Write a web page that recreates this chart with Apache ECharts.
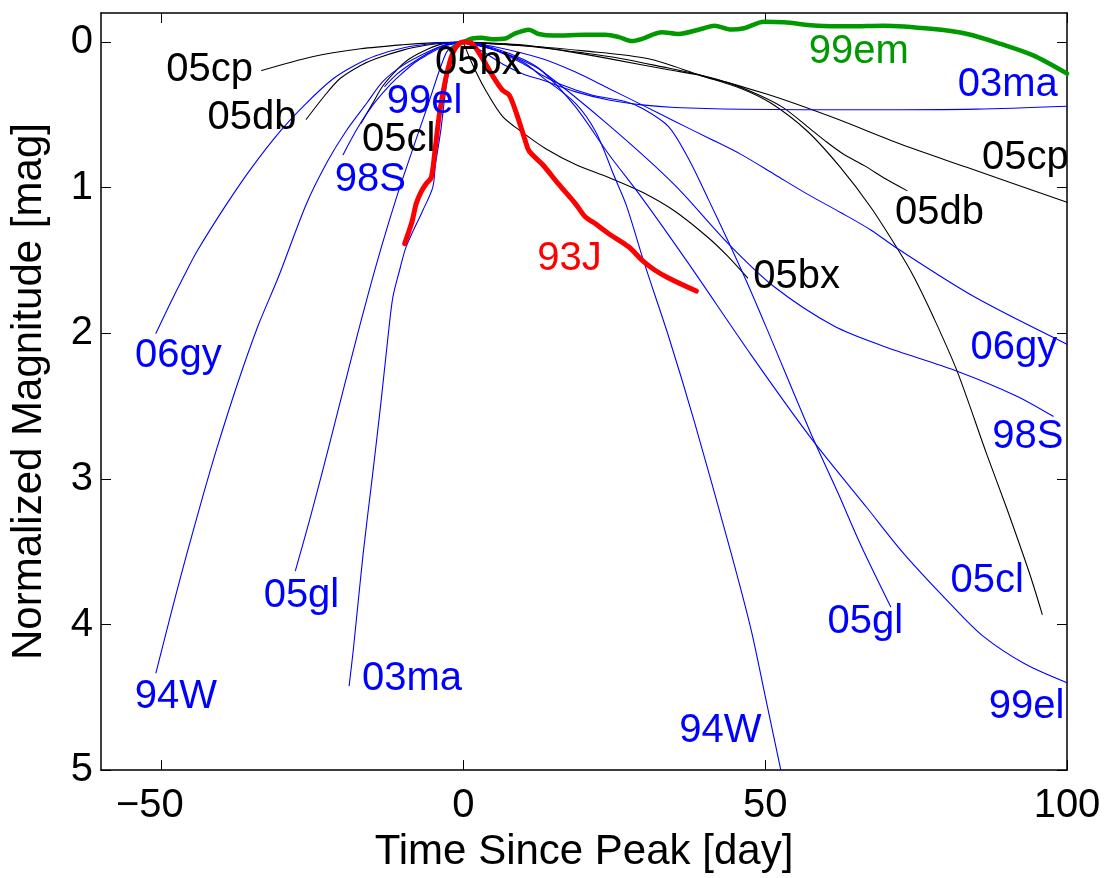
<!DOCTYPE html>
<html>
<head>
<meta charset="utf-8">
<script src="https://cdn.jsdelivr.net/npm/echarts@6/dist/echarts.min.js"></script>
<style>
html,body{margin:0;padding:0;background:#fff;}
#chart{width:1104px;height:878px;}
</style>
</head>
<body>
<div id="chart"></div>
<script>
// Normalized light curves: [day since peak, magnitude below peak]

// rise branches (before peak)
const rise05cp = [[-33.4,0.195],[-25,0.10],[-17,0.046],[-10,0.018],[-5,0.005],[0,0]];
const rise05db = [[-26,0.53],[-23,0.37],[-20.4,0.25],[-17,0.16],[-14.5,0.114],[-10,0.055],[-6.2,0.022],[-3,0.006],[0,0]];
const rise05cl = [[-16.9,0.556],[-15,0.42],[-13.3,0.30],[-11,0.19],[-8.9,0.114],[-6,0.05],[-3.4,0.012],[0,0]];
const rise99el = [[-13,0.304],[-11,0.22],[-8.9,0.155],[-6,0.08],[-3.4,0.025],[0,0]];
const rise98S  = [[-19.9,0.773],[-17.5,0.59],[-15,0.433],[-12.5,0.31],[-10.5,0.229],[-8,0.14],[-6.2,0.093],[-3,0.025],[0,0]];
const rise06gy = [[-50.9,2.0],[-48.6,1.80],[-46.3,1.61],[-44,1.43],[-39.2,1.113],[-35,0.86],[-30.3,0.611],[-26,0.42],[-21.5,0.25],[-18,0.16],[-14.5,0.093],[-10,0.04],[-5,0.01],[0,0]];
const rise94W  = [[-50.9,4.333],[-48,3.86],[-45.8,3.517],[-43,3.1],[-40.8,2.789],[-37.5,2.36],[-34,1.95],[-30.6,1.612],[-26,1.113],[-22.5,0.82],[-19.4,0.61],[-16,0.42],[-13.3,0.27],[-10,0.16],[-6,0.07],[-3,0.02],[0,0]];
const rise05gl = [[-27.8,3.63],[-25.5,3.29],[-23.2,2.93],[-20.8,2.54],[-18.4,2.15],[-16.0,1.77],[-13.5,1.40],[-11,1.06],[-8.9,0.80],[-6,0.45],[-2.9,0.08],[-1.5,0.02],[0,0]];
const rise03ma = [[-18.9,4.42],[-18.2,4.17],[-16.6,3.52],[-15.1,3.0],[-13.7,2.5],[-12.4,2.0],[-11.65,1.75],[-10.5,1.56],[-9.46,1.406],[-6.7,1.156],[-5.06,1.0],[-4.6,0.84],[-3.73,0.61],[-3.08,0.386],[-2.26,0.161],[-1.27,0.025],[0,0]];

// decline branches (after peak)
const fall05cp = [[0,0],[10,0.02],[17.5,0.065],[25,0.12],[34,0.19],[39.4,0.23],[50.5,0.36],[61.4,0.52],[72.4,0.70],[83.4,0.86],[100,1.10]];
const fall05db = [[0,0],[10,0.025],[20,0.075],[26.3,0.114],[33,0.17],[39.4,0.227],[44,0.28],[48.8,0.36],[53,0.45],[57,0.58],[60,0.68],[63,0.77],[66.5,0.85],[70,0.94],[73.5,1.02]];
const fall05cl = [[0,0],[10,0.025],[20,0.06],[30.7,0.114],[39.4,0.23],[46,0.318],[51,0.42],[57,0.612],[62.5,0.862],[67.5,1.134],[71.9,1.418],[74.6,1.61],[78,1.9],[81.8,2.26],[86.7,2.83],[90,3.2],[93.8,3.65],[95.9,3.93]];
const fall05bx = [[0,0],[1.5,0.15],[3.7,0.33],[6.5,0.51],[9.8,0.62],[13.6,0.73],[18.6,0.84],[24.1,0.93],[29.6,1.03],[35,1.16],[40.5,1.34],[43.8,1.47],[47.1,1.62]];
const fall03ma = [[0,0],[3,0.06],[6.5,0.15],[10,0.22],[13.1,0.26],[18.5,0.34],[24.1,0.397],[29.6,0.431],[35,0.449],[46,0.461],[67,0.465],[85,0.46],[100,0.44]];
const fall06gy = [[0,0],[5,0.03],[13.1,0.114],[18.5,0.204],[24.1,0.318],[29.6,0.431],[35,0.544],[40.6,0.658],[46,0.771],[51.5,0.907],[57,1.044],[62.5,1.17],[67.5,1.29],[71.9,1.418],[84.5,1.746],[100,2.075]];
const fall98S  = [[0,0],[5,0.05],[10,0.13],[13.1,0.2],[24.1,0.57],[35,0.98],[43.8,1.38],[51.5,1.68],[61.4,1.95],[69.7,2.09],[81.8,2.26],[91.6,2.43],[97.7,2.57]];
const fall05gl = [[0,0],[5,0.05],[10,0.15],[13.1,0.227],[16.4,0.295],[21.3,0.363],[26.8,0.408],[29.6,0.454],[34,0.58],[37.3,0.80],[40.6,1.08],[43.9,1.37],[47.2,1.67],[50.4,1.98],[57.6,2.69],[62,3.09],[65.8,3.45],[70.8,3.878]];
const fall99el = [[0,0],[5,0.04],[10,0.12],[13.1,0.2],[18.5,0.44],[24.1,0.77],[29.6,1.07],[37.3,1.52],[47.7,2.15],[57.6,2.72],[66.9,3.2],[73,3.515],[80.6,3.855],[86.1,4.08],[93,4.27],[100,4.40]];
const fall94W  = [[0,0],[5,0.05],[10,0.14],[13.1,0.24],[18.6,0.42],[22,0.62],[25,0.92],[27,1.12],[30,1.52],[34,2.02],[38.3,2.61],[44.3,3.5],[47.7,4.04],[49.9,4.47],[52.6,5.0]];

// full curves of the highlighted events
const lc93J = [[-9.7,1.384],[-9.0,1.3],[-8.4,1.22],[-7.8,1.11],[-7.0,1.03],[-6.2,0.976],[-5.3,0.93],[-4.7,0.75],[-3.9,0.48],[-2.9,0.25],[-1.8,0.08],[-0.8,0.015],[0,0],
  [1.5,0.012],[3.2,0.114],[4.8,0.227],[6.5,0.33],[7.6,0.363],[8.7,0.476],[10.3,0.68],[10.9,0.748],[13.1,0.839],[15.8,0.976],[18.6,1.111],[20.2,1.2],[21.9,1.248],[24.1,1.316],[27.4,1.406],[29.6,1.497],[31.7,1.565],[34,1.62],[38.6,1.71]];
const lc99em = [[-2.0,0.057],[-1,0.02],[0,0],[1.5,-0.025],[3,-0.03],[4.8,-0.02],[7.0,-0.025],[8.6,-0.06],[10.9,-0.085],[12.5,-0.056],[15,-0.045],[20.2,-0.05],[23.5,-0.05],[25.8,-0.034],[27.9,-0.007],[29.6,-0.022],[32.9,-0.068],[35.6,-0.056],[39.4,-0.09],[41.6,-0.113],[44.4,-0.086],[46.5,-0.095],[49.8,-0.14],[53.1,-0.136],[58.7,-0.113],[64.1,-0.109],[69.6,-0.113],[77.9,-0.09],[83.5,-0.056],[89,0.012],[94.4,0.091],[100,0.216]];

// text annotations: [text, day, mag, pen]
const annotations = [
  ['05cp', -42.0, 0.189, 'k'], ['05db', -35.0, 0.522, 'k'], ['99el', -6.4, 0.408, 'b'],
  ['05cl', -10.7, 0.669, 'k'], ['98S', -15.4, 0.947, 'b'], ['06gy', -47.2, 2.158, 'b'],
  ['05gl', -26.8, 3.804, 'b'], ['94W', -47.6, 4.499, 'b'], ['03ma', -8.5, 4.371, 'b'],
  ['05bx', 2.5, 0.142, 'k'], ['99em', 65.5, 0.071, 'g'], ['03ma', 90.2, 0.293, 'b'],
  ['05cp', 93.1, 0.796, 'k'], ['05db', 78.9, 1.174, 'k'], ['05bx', 55.2, 1.616, 'k'],
  ['93J', 17.6, 1.486, 'r'], ['06gy', 91.2, 2.103, 'b'], ['98S', 93.5, 2.710, 'b'],
  ['05cl', 86.8, 3.704, 'b'], ['05gl', 66.6, 3.986, 'b'], ['99el', 93.3, 4.564, 'b'],
  ['94W', 42.6, 4.734, 'b']
];

const xTicks = [-50, 0, 50, 100];
const yTicks = [0, 1, 2, 3, 4, 5];

// line pens
const pens = {
  k: { color: '#000000', width: 1.1 },
  b: { color: '#0000ff', width: 1.1 },
  r: { color: '#ff0000', width: 5 },
  g: { color: '#009900', width: 4.5 }
};

const curves = [
  [rise05cp, 'k'], [rise05db, 'k'], [rise05cl, 'k'],
  [fall05cp, 'k'], [fall05db, 'k'], [fall05cl, 'k'], [fall05bx, 'k'],
  [rise99el, 'b'], [rise98S, 'b'], [rise06gy, 'b'], [rise94W, 'b'], [rise05gl, 'b'], [rise03ma, 'b'],
  [fall03ma, 'b'], [fall06gy, 'b'], [fall98S, 'b'], [fall05gl, 'b'], [fall99el, 'b'], [fall94W, 'b'],
  [lc99em, 'g'], [lc93J, 'r']
];

const FONT = '"Liberation Sans", Arial, Helvetica, sans-serif';
// negative tick labels: the digits stay centred on the tick, the minus hangs to the left
const tickText = v => v < 0 ? '\u2212' + (-v) + '{gap|}' : String(v);

const frameLine = { show: true, onZero: false, lineStyle: { color: '#000', width: 1.5 } };
const innerTick = (vals) => ({ show: true, inside: true, length: 10, customValues: vals, lineStyle: { color: '#000', width: 1 } });

const series = curves.map(([pts, pen]) => ({
  type: 'line',
  data: pts,
  showSymbol: false,
  symbol: 'none',
  smooth: 0.3,
  silent: true,
  lineStyle: { color: pens[pen].color, width: pens[pen].width, cap: 'round', join: 'round', opacity: 1 },
  z: pen === 'r' || pen === 'g' ? 3 : 2
}));

series.push({
  type: 'scatter',
  silent: true,
  symbolSize: 1,
  itemStyle: { color: 'rgba(0,0,0,0)', opacity: 1 },
  z: 5,
  label: {
    show: true, position: 'inside', formatter: '{b}',
    fontSize: 40, fontFamily: FONT, opacity: 1
  },
  data: annotations.map(a => ({ name: a[0], value: [a[1], a[2]], label: { color: pens[a[3]].color } }))
});

const chart = echarts.init(document.getElementById('chart'), null, { renderer: 'canvas' });
chart.setOption({
  animation: false,
  backgroundColor: '#ffffff',
  grid: { left: 97, top: 13, right: 37, bottom: 100, containLabel: false },
  xAxis: [{
    type: 'value', min: -60, max: 100, position: 'bottom',
    axisLine: frameLine, axisTick: innerTick(xTicks), splitLine: { show: false },
    axisLabel: {
      customValues: xTicks, formatter: tickText, fontSize: 40, fontFamily: FONT, color: '#000', margin: 16,
      rich: { gap: { width: 23, fontSize: 40 } }
    },
    name: 'Time Since Peak [day]', nameLocation: 'middle', nameGap: 52,
    nameTextStyle: { fontSize: 42, fontFamily: FONT, color: '#000' }
  }, {
    type: 'value', min: -60, max: 100, position: 'top',
    axisLine: frameLine, axisTick: innerTick(xTicks), splitLine: { show: false },
    axisLabel: { show: false }
  }],
  yAxis: [{
    type: 'value', min: -0.2, max: 5, inverse: true, position: 'left',
    axisLine: frameLine, axisTick: innerTick(yTicks), splitLine: { show: false },
    axisLabel: { customValues: yTicks, fontSize: 40, fontFamily: FONT, color: '#000', margin: 8 },
    name: 'Normalized Magnitude [mag]', nameLocation: 'middle', nameGap: 51, nameRotate: 90,
    nameTextStyle: { fontSize: 42, fontFamily: FONT, color: '#000' }
  }, {
    type: 'value', min: -0.2, max: 5, inverse: true, position: 'right',
    axisLine: frameLine, axisTick: innerTick(yTicks), splitLine: { show: false },
    axisLabel: { show: false }
  }],
  series: series
});
</script>
</body>
</html>
